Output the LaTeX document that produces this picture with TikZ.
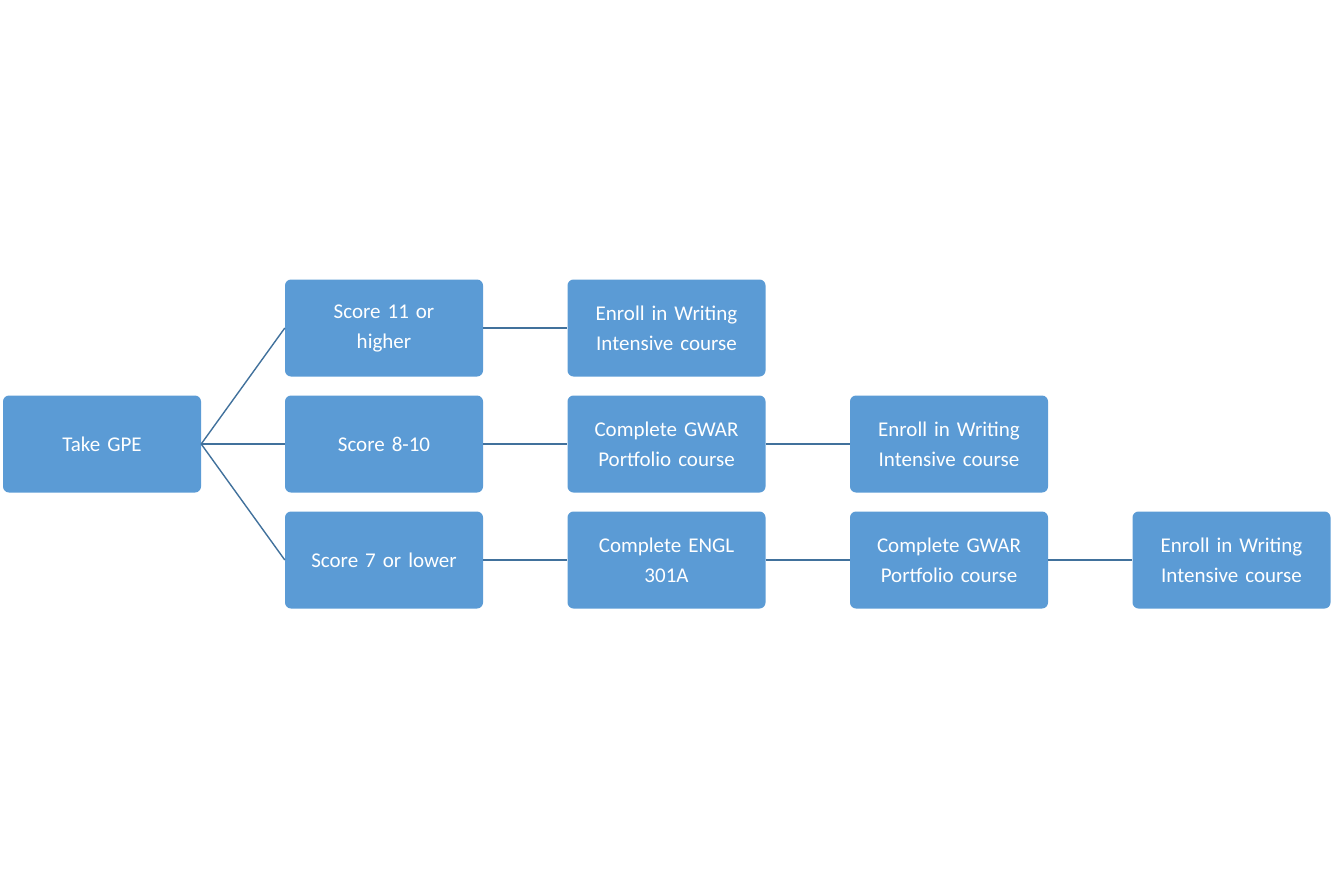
\documentclass[tikz,border=0pt]{standalone}
\usepackage{fontspec}
\setmainfont{Carlito}
\begin{document}
\begin{tikzpicture}[x=1pt,y=-1pt,
  box/.style={fill=boxblue,draw=none,rounded corners=6pt,minimum width=198pt,minimum height=97pt,text=white,align=center,font=\fontsize{21}{30}\selectfont,text width=185pt,inner sep=0pt},
  conn/.style={draw=lineblue,line width=1.4pt}]
\definecolor{boxblue}{HTML}{5B9BD5}
\definecolor{lineblue}{HTML}{41719C}
\useasboundingbox (0,0) rectangle (1344,888);
\node[box] (gpe) at (102,444) {Take GPE};
\node[box] (s11) at (384,328) {Score 11 or\\higher};
\node[box] (s8) at (384,444) {Score 8-10};
\node[box] (s7) at (384,560) {Score 7 or lower};
\node[box] (e1) at (666.5,328) {Enroll in Writing\\Intensive course};
\node[box] (g2) at (666.5,444) {Complete GWAR\\Portfolio course};
\node[box] (en3) at (666.5,560) {Complete ENGL\\301A};
\node[box] (e2) at (949,444) {Enroll in Writing\\Intensive course};
\node[box] (g3) at (949,560) {Complete GWAR\\Portfolio course};
\node[box] (e3) at (1231.5,560) {Enroll in Writing\\Intensive course};
\draw[conn] (gpe.east) -- (s11.west);
\draw[conn] (gpe.east) -- (s8.west);
\draw[conn] (gpe.east) -- (s7.west);
\draw[conn] (s11) -- (e1);
\draw[conn] (s8) -- (g2);
\draw[conn] (g2) -- (e2);
\draw[conn] (s7) -- (en3);
\draw[conn] (en3) -- (g3);
\draw[conn] (g3) -- (e3);
\end{tikzpicture}
\end{document}
